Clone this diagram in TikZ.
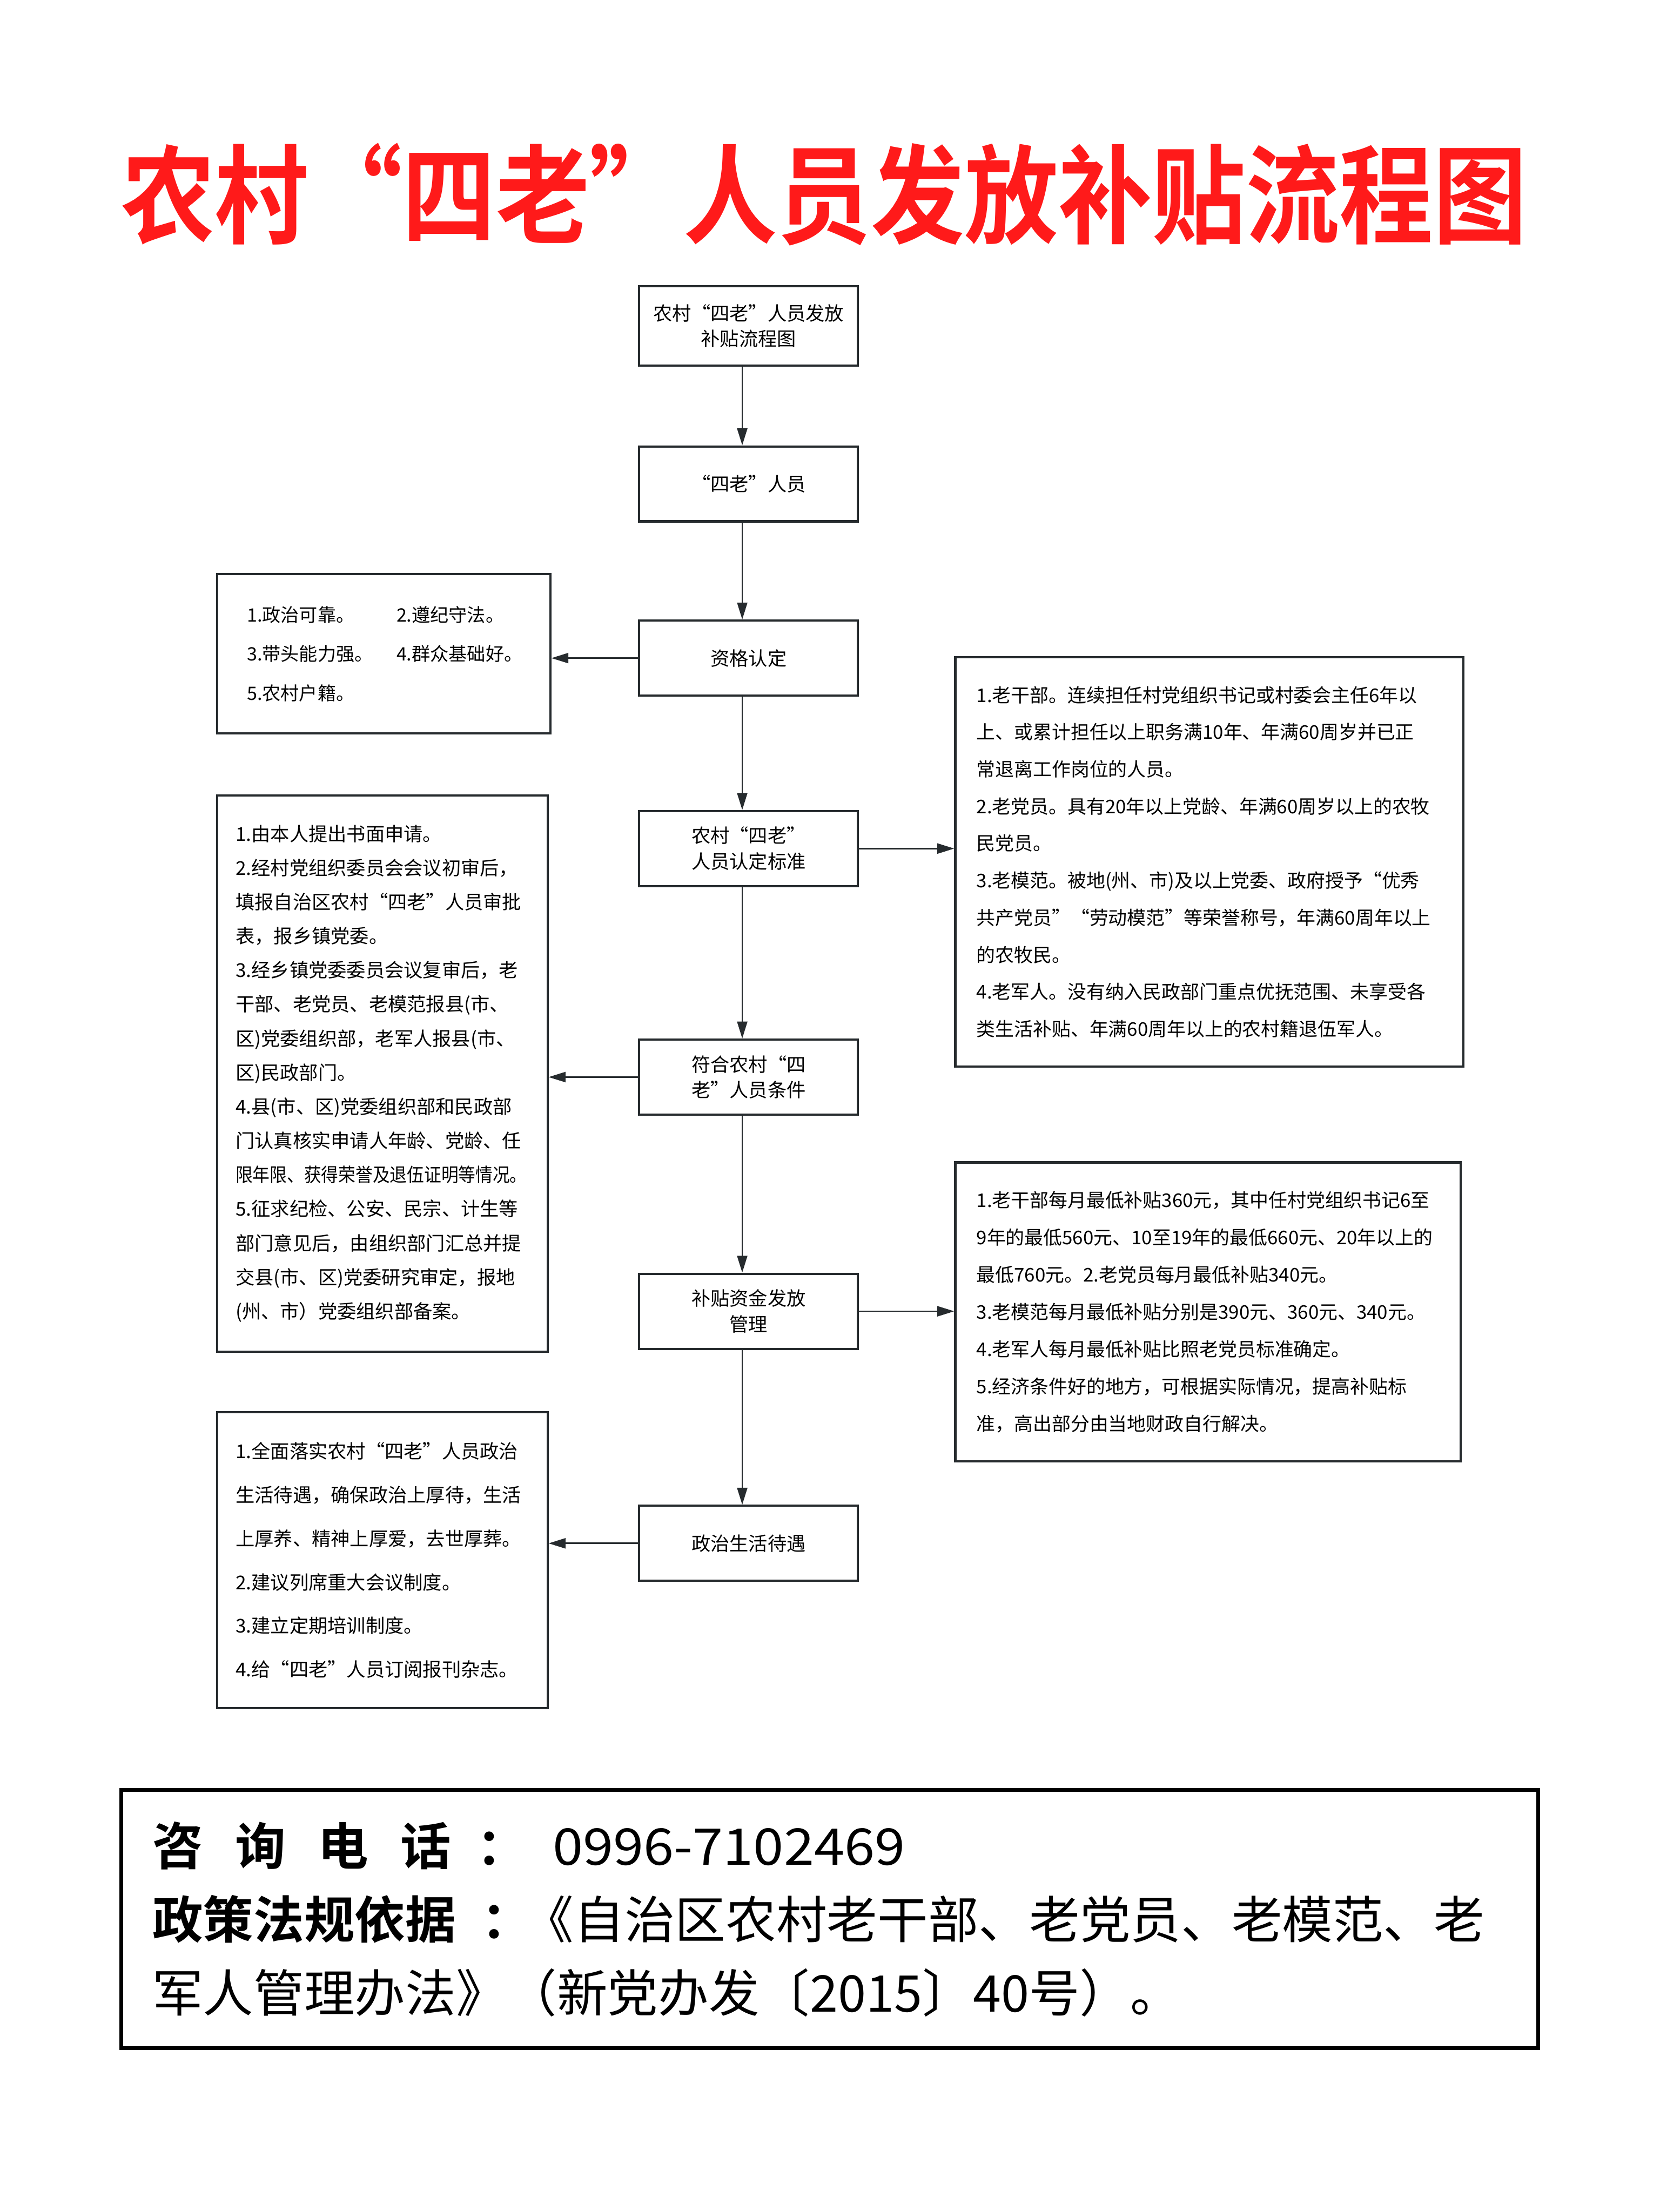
\documentclass[tikz,border=0pt]{standalone}
\usepackage{fontspec}
\setmainfont{Noto Sans CJK SC}[BoldFont={Noto Sans CJK SC Bold}]
\usetikzlibrary{arrows.meta}
\definecolor{titlered}{HTML}{FF1A1A}
\definecolor{linegray}{HTML}{262B2E}

\begin{document}
\begin{tikzpicture}[>={Triangle[length=3mm,width=1.8mm]},
  flowbox/.style={draw=linegray, line width=1.1pt, minimum width=3.875cm, minimum height=1.33cm, align=center, font=\fontsize{9.6}{13}\selectfont},
  notebox/.style={draw=linegray, line width=1.1pt, align=left, inner ysep=0pt},
  link/.style={->, draw=linegray, line width=0.75pt}]
  \fill[white] (0,0) rectangle (29.4,-39.2);
  \useasboundingbox (0,0) rectangle (29.4,-39.2);

  \node[text=titlered, font=\fontsize{54}{60}\selectfont\bfseries] (title) at (14.6,-3.45) {\scalebox{0.875}[1]{农村“四老”人员发放补贴流程图}};

  \node[flowbox, minimum height=1.4cm] (start) at (13.2625,-5.775) {农村“四老”人员发放\\补贴流程图};
  \node[flowbox] (silao) at (13.2625,-8.575) {“四老”人员};
  \node[flowbox] (zige) at (13.2625,-11.6625) {资格认定};
  \node[flowbox] (biaozhun) at (13.2625,-15.0375) {农村“四老”\\人员认定标准};
  \node[flowbox] (fuhe) at (13.2625,-19.0875) {符合农村“四\\老”人员条件};
  \node[flowbox] (zijin) at (13.2625,-23.2375) {补贴资金发放\\管理};
  \node[flowbox] (daiyu) at (13.2625,-27.35) {政治生活待遇};
  \coordinate (spine) at (13.15,0);

  \node[notebox, text width=4.85cm, inner xsep=0.525cm, minimum height=2.825cm, font=\fontsize{9.3}{19.8}\selectfont] (zigetiao) at (6.8,-11.5875)
    {\makebox[2.65cm][l]{1.政治可靠。}2.遵纪守法。\\
     \makebox[2.65cm][l]{3.带头能力强。}4.群众基础好。\\
     5.农村户籍。};
  \node[notebox, text width=5.2cm, inner xsep=0.325cm, minimum height=9.85cm, font=\fontsize{9.6}{17.2}\selectfont] (chengxu) at (6.775,-19.025)
    {1.由本人提出书面申请。\\
     2.经村党组织委员会会议初审后，\\
     填报自治区农村“四老”人员审批\\
     表，报乡镇党委。\\
     3.经乡镇党委委员会议复审后，老\\
     干部、老党员、老模范报县(市、\\
     区)党委组织部，老军人报县(市、\\
     区)民政部门。\\
     4.县(市、区)党委组织部和民政部\\
     门认真核实申请人年龄、党龄、任\\
     \scalebox{0.9}[1]{限年限、获得荣誉及退伍证明等情况。}\\
     5.征求纪检、公安、民宗、计生等\\
     部门意见后，由组织部门汇总并提\\
     交县(市、区)党委研究审定，报地\\
     (州、市）党委组织部备案。};
  \node[notebox, text width=5.2cm, inner xsep=0.325cm, minimum height=5.25cm, font=\fontsize{9.6}{22}\selectfont] (daiyutiao) at (6.775,-27.65)
    {1.全面落实农村“四老”人员政治\\
     生活待遇，确保政治上厚待，生活\\
     上厚养、精神上厚爱，去世厚葬。\\
     2.建议列席重大会议制度。\\
     3.建立定期培训制度。\\
     4.给“四老”人员订阅报刊杂志。};

  \node[notebox, text width=8.25cm, inner xsep=0.375cm, minimum height=7.25cm, font=\fontsize{9.5}{18.7}\selectfont] (biaozhuntiao) at (21.425,-15.275)
    {1.老干部。连续担任村党组织书记或村委会主任6年以\\
     上、或累计担任以上职务满10年、年满60周岁并已正\\
     常退离工作岗位的人员。\\
     2.老党员。具有20年以上党龄、年满60周岁以上的农牧\\
     民党员。\\
     3.老模范。被地(州、市)及以上党委、政府授予“优秀\\
     共产党员”“劳动模范”等荣誉称号，年满60周年以上\\
     的农牧民。\\
     4.老军人。没有纳入民政部门重点优抚范围、未享受各\\
     类生活补贴、年满60周年以上的农村籍退伍军人。};
  \node[notebox, text width=8.2cm, inner xsep=0.375cm, minimum height=5.3cm, font=\fontsize{9.5}{18.8}\selectfont] (butiao) at (21.4,-23.25)
    {1.老干部每月最低补贴360元，其中任村党组织书记6至\\
     9年的最低560元、10至19年的最低660元、20年以上的\\
     最低760元。2.老党员每月最低补贴340元。\\
     3.老模范每月最低补贴分别是390元、360元、340元。\\
     4.老军人每月最低补贴比照老党员标准确定。\\
     5.经济条件好的地方，可根据实际情况，提高补贴标\\
     准，高出部分由当地财政自行解决。};

  \draw[link] (start.south -| spine) -- (silao.north -| spine);
  \draw[link] (silao.south -| spine) -- (zige.north -| spine);
  \draw[link] (zige.south -| spine) -- (biaozhun.north -| spine);
  \draw[link] (biaozhun.south -| spine) -- (fuhe.north -| spine);
  \draw[link] (fuhe.south -| spine) -- (zijin.north -| spine);
  \draw[link] (zijin.south -| spine) -- (daiyu.north -| spine);
  \draw[link] (zige.west) -- (zige.west -| zigetiao.east);
  \draw[link] (fuhe.west) -- (fuhe.west -| chengxu.east);
  \draw[link] (daiyu.west) -- (daiyu.west -| daiyutiao.east);
  \draw[link] (biaozhun.east) -- (biaozhun.east -| biaozhuntiao.west);
  \draw[link] (zijin.east) -- (zijin.east -| butiao.west);

  \node[draw=black, line width=2pt, text width=24cm, inner xsep=0.55cm, inner ysep=0pt, minimum height=4.575cm, align=left, font=\fontsize{25.5}{37}\selectfont] (zixun) at (14.7,-34.01)
    {{\bfseries 咨\hspace{0.57cm}询\hspace{0.57cm}电\hspace{0.57cm}话\hspace{0.45cm}：}\hspace{0.45cm}\scalebox{1.08}[1]{0996-7102469}\\
     {\bfseries 政策法规依据\hspace{0.45cm}：}\hspace{-0.15cm}《自治区农村老干部、老党员、老模范、老\\
     军人管理办法》（新党办发〔2015〕40号）。};
\end{tikzpicture}
\end{document}
